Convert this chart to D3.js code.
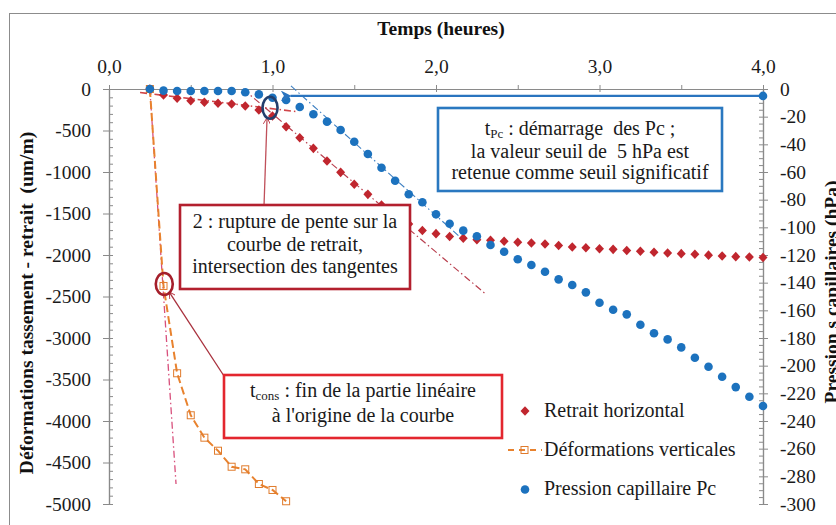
<!DOCTYPE html>
<html>
<head>
<meta charset="utf-8">
<script src="https://cdn.jsdelivr.net/npm/d3@7"></script>
<style>
  html, body { margin: 0; padding: 0; background: #ffffff; }
  svg { display: block; }
  svg text { font-family: "Liberation Serif", "Times New Roman", "DejaVu Serif", serif; }
</style>
</head>
<body>
<svg id="chart" width="836" height="525"></svg>
<script>
// Temps de mesure (minutes) — pas de 5 min
const minutes = [15, 20, 25, 30, 35, 40, 45, 50, 55, 60, 65, 70, 75, 80, 85, 90, 95, 100, 105, 110,
  115, 120, 125, 130, 135, 140, 145, 150, 155, 160, 165, 170, 175, 180, 185, 190, 195, 200, 205, 210,
  215, 220, 225, 230, 235, 240];

// Retrait horizontal (um/m), axe gauche
const retraitHorizontal = [0, -72, -112, -141, -160, -172, -181, -205, -253, -325, -454, -587, -715, -867,
  -1004, -1148, -1269, -1398, -1518, -1627, -1705, -1743, -1777, -1799, -1815, -1822, -1834, -1846, -1855,
  -1867, -1886, -1903, -1912, -1924, -1932, -1946, -1954, -1966, -1976, -1984, -1991, -2002, -2012, -2020,
  -2024, -2030];

// Pression capillaire Pc (hPa), axe droit
const pressionCapillaire = [0, -1.2, -1.4, -1.4, -1.4, -1.4, -1.4, -2.4, -3.9, -6.3, -8.0, -13.0, -18.3,
  -23.6, -29.6, -38.1, -47.0, -56.9, -66.3, -76.1, -81.9, -90.6, -97.4, -102.4, -106.4, -112.8, -117.6,
  -123.1, -127.2, -132.1, -137.6, -141.7, -147.0, -154.5, -159.6, -162.9, -170.4, -176.6, -181.0, -186.8,
  -194.3, -200.8, -208.0, -215.5, -222.5, -229.2];

// Déformations verticales (um/m), axe gauche
const minutesVert = [15, 20, 25, 30, 35, 40, 45, 50, 55, 60, 65];
const deformationsVerticales = [0, -2373, -3425, -3931, -4201, -4358, -4551, -4582, -4759, -4831, -4967];

// Tangentes (temps en heures)
const tangenteOrigineT = [0.25, 0.41];
const tangenteOrigineV = [0, -4760];
const tangenteRetraitDebutT = [0.19, 1.14];
const tangenteRetraitDebutV = [-42, -271];
const tangenteRetraitPenteT = [0.82, 2.30];
const tangenteRetraitPenteV = [0, -2464];
const tangentePcT = [1.113, 2.147];
const tangentePcV = [2.2, -107];

// Seuil de 5 hPa
const seuilT = [4.0, 1.11];
const seuilPc = [-5, -5];

// Graduations
const ticksTemps = [0, 1, 2, 3, 4];
const ticksTempsMineurs = [0.5, 1.5, 2.5, 3.5];
const ticksGauche = [0, -500, -1000, -1500, -2000, -2500, -3000, -3500, -4000, -4500, -5000];
const ticksDroite = [0, -20, -40, -60, -80, -100, -120, -140, -160, -180, -200, -220, -240, -260, -280, -300];

const SERIF = '"Liberation Serif", "Times New Roman", "DejaVu Serif", serif';
const svg = d3.select("#chart");
const AXIS = "#8a8a8a";

const x = d3.scaleLinear().domain([0, 4]).range([109, 763]);
const yL = d3.scaleLinear().domain([-5000, 0]).range([504, 89]);
const yR = d3.scaleLinear().domain([-300, 0]).range([504, 89]);

// Cadre extérieur
svg.append("rect").attr("x", 9.5).attr("y", 13.5).attr("width", 840).attr("height", 520)
  .attr("fill", "none").attr("stroke", "#8c8c8c").attr("stroke-width", 1);

function styleAxis(g) {
  g.attr("font-family", SERIF).attr("font-size", null);
  g.select(".domain").attr("stroke", AXIS).attr("stroke-width", 1.2);
  g.selectAll(".tick line").attr("stroke", AXIS).attr("stroke-width", 1);
  g.selectAll(".tick text").attr("fill", "#1a1a1a").attr("font-family", SERIF).style("font-size", "19.5px");
}

const fmtTemps = d => d3.format(".1f")(d).replace(".", ",");
const fmtEntier = d => String(d);

// Axe du temps (en haut)
const gTop = svg.append("g").attr("transform", `translate(0,${yL(0)})`);
gTop.call(d3.axisTop(x).tickValues(ticksTemps).tickSize(4).tickSizeOuter(0).tickPadding(12).tickFormat(fmtTemps));
styleAxis(gTop);
const gTopIn = svg.append("g").attr("transform", `translate(0,${yL(0)})`);
gTopIn.call(d3.axisBottom(x).tickValues(ticksTemps).tickSize(3).tickSizeOuter(0).tickFormat(""));
styleAxis(gTopIn);
const gTopMin = svg.append("g").attr("transform", `translate(0,${yL(0)})`);
gTopMin.call(d3.axisTop(x).tickValues(ticksTempsMineurs).tickSize(4).tickSizeOuter(0).tickFormat(""));
styleAxis(gTopMin);

// Axe gauche
const gL = svg.append("g").attr("transform", `translate(${x(0)},0)`);
gL.call(d3.axisLeft(yL).tickValues(ticksGauche).tickSize(6).tickSizeOuter(0).tickPadding(12).tickFormat(fmtEntier));
styleAxis(gL);
const gLmin = svg.append("g").attr("transform", `translate(${x(0)},0)`);
gLmin.call(d3.axisRight(yL).tickValues(d3.range(-5000, 1, 100)).tickSize(4).tickSizeOuter(0).tickFormat(""));
styleAxis(gLmin);

// Axe droit
const gR = svg.append("g").attr("transform", `translate(${x(4)},0)`);
gR.call(d3.axisRight(yR).tickValues(ticksDroite).tickSize(5).tickSizeOuter(0).tickPadding(12).tickFormat(fmtEntier));
styleAxis(gR);
const gRmin = svg.append("g").attr("transform", `translate(${x(4)},0)`);
gRmin.call(d3.axisLeft(yR).tickValues(d3.range(-300, 1, 5)).tickSize(4).tickSizeOuter(0).tickFormat(""));
styleAxis(gRmin);

// Titres des axes
function titre(el) {
  return el.attr("font-family", SERIF).style("font-size", "19.5px").style("font-weight", "bold").attr("fill", "#111");
}
titre(svg.append("text").attr("x", 441).attr("y", 35).attr("text-anchor", "middle"))
  .text("Temps (heures)");
titre(svg.append("text").attr("transform", "translate(33,303) rotate(-90)").attr("text-anchor", "middle"))
  .attr("xml:space", "preserve")
  .text("Déformations tassement - retrait  (um/m)");
titre(svg.append("text").attr("transform", "translate(838,292) rotate(-90)").attr("text-anchor", "middle"))
  .text("Pression s capillaires (hPa)");

// Tangentes
const segL = (ts, vs) => d3.line().x(i => x(ts[i])).y(i => yL(vs[i]))([0, 1]);
const segR = (ts, vs) => d3.line().x(i => x(ts[i])).y(i => yR(vs[i]))([0, 1]);
const DASHDOT = "7,3,1.5,3";

svg.append("path").attr("d", segL(tangenteOrigineT, tangenteOrigineV))
  .attr("fill", "none").attr("stroke", "#d8507c").attr("stroke-width", 1.3).attr("stroke-dasharray", DASHDOT);
svg.append("path").attr("d", segL(tangenteRetraitDebutT, tangenteRetraitDebutV))
  .attr("fill", "none").attr("stroke", "#d0464a").attr("stroke-width", 1.6).attr("stroke-dasharray", DASHDOT);
svg.append("path").attr("d", segL(tangenteRetraitPenteT, tangenteRetraitPenteV))
  .attr("fill", "none").attr("stroke", "#b9404f").attr("stroke-width", 1.2).attr("stroke-dasharray", DASHDOT);
svg.append("path").attr("d", segR(tangentePcT, tangentePcV))
  .attr("fill", "none").attr("stroke", "#3d7fc2").attr("stroke-width", 1.1).attr("stroke-dasharray", DASHDOT);

// Déformations verticales : ligne pointillée + carrés creux
const ORANGE = "#e8822e";
const vertIdx = d3.range(minutesVert.length);
svg.append("path")
  .attr("d", d3.line().x(i => x(minutesVert[i] / 60)).y(i => yL(deformationsVerticales[i]))(vertIdx))
  .attr("fill", "none").attr("stroke", ORANGE).attr("stroke-width", 2).attr("stroke-dasharray", "8,4");
svg.append("g").selectAll("rect").data(vertIdx).join("rect")
  .attr("x", i => x(minutesVert[i] / 60) - 3.5).attr("y", i => yL(deformationsVerticales[i]) - 3.5)
  .attr("width", 7).attr("height", 7).attr("fill", "none").attr("stroke", "#e07b2c").attr("stroke-width", 1);

// Retrait horizontal : losanges
const RED = "#c0262e";
const idx = d3.range(minutes.length);
const diamond = "M0,-4.8L4.5,0L0,4.8L-4.5,0Z";
svg.append("g").selectAll("path").data(idx).join("path")
  .attr("d", diamond)
  .attr("transform", i => `translate(${x(minutes[i] / 60)},${yL(retraitHorizontal[i])})`)
  .attr("fill", RED);

// Pression capillaire : points
const BLUE = "#1c72be";
svg.append("g").selectAll("circle").data(idx).join("circle")
  .attr("cx", i => x(minutes[i] / 60)).attr("cy", i => yR(pressionCapillaire[i]))
  .attr("r", 4.3).attr("fill", BLUE);

// Marqueurs de flèches
const defs = svg.append("defs");
defs.append("marker").attr("id", "fleche-bleue").attr("viewBox", "0 0 10 10")
  .attr("refX", 1).attr("refY", 5).attr("markerWidth", 4.5).attr("markerHeight", 4.5)
  .attr("orient", "auto-start-reverse").attr("markerUnits", "strokeWidth")
  .append("path").attr("d", "M0,5L10,0L7,5L10,10Z").attr("fill", "#2a74bf");
defs.append("marker").attr("id", "fleche-rouge").attr("viewBox", "0 0 10 10")
  .attr("refX", 9).attr("refY", 5).attr("markerWidth", 7).attr("markerHeight", 7)
  .attr("orient", "auto").attr("markerUnits", "userSpaceOnUse")
  .append("path").attr("d", "M0,0L9,5L0,10").attr("fill", "none").attr("stroke", "#b8323f").attr("stroke-width", 1.3);

// Seuil de 5 hPa
svg.append("path").attr("d", segR(seuilT, seuilPc))
  .attr("fill", "none").attr("stroke", "#2a74bf").attr("stroke-width", 2.4)
  .attr("marker-end", "url(#fleche-bleue)");
svg.append("circle").attr("cx", x(seuilT[0])).attr("cy", yR(seuilPc[0])).attr("r", 4.3).attr("fill", BLUE);

// Encadrés
function encadre(x0, y0, w, h, stroke) {
  const g = svg.append("g");
  g.append("rect").attr("x", x0).attr("y", y0).attr("width", w).attr("height", h)
    .attr("fill", "#ffffff").attr("stroke", stroke).attr("stroke-width", 2.6);
  return g;
}
// Une ligne de texte centrée ; { sub: "..." } produit un indice
function ligne(g, cx, y, parts) {
  const t = g.append("text").attr("x", cx).attr("y", y).attr("text-anchor", "middle")
    .attr("font-family", SERIF).style("font-size", "20px").attr("fill", "#1a1a1a")
    .attr("xml:space", "preserve");
  let enIndice = false;
  parts.forEach(p => {
    if (typeof p === "string") {
      t.append("tspan").attr("dy", enIndice ? -3 : null).text(p);
      enIndice = false;
    } else {
      t.append("tspan").attr("dy", 3).style("font-size", "13px").text(p.sub);
      enIndice = true;
    }
  });
  return t;
}

// Flèches des encadrés vers les points entourés
const ellBleue = { t: 0.985, v: -13.5 };
const ellRouge = { t: 0.338, v: -2350 };
svg.append("line").attr("x1", 264).attr("y1", 206).attr("x2", x(ellBleue.t) - 3).attr("y2", yR(ellBleue.v) + 10)
  .attr("stroke", "#c0505a").attr("stroke-width", 1.3).attr("marker-end", "url(#fleche-rouge)");
svg.append("line").attr("x1", 224).attr("y1", 376).attr("x2", x(ellRouge.t) + 5).attr("y2", yL(ellRouge.v) + 8)
  .attr("stroke", "#a8303c").attr("stroke-width", 1.3).attr("marker-end", "url(#fleche-rouge)");

const b1 = encadre(438, 108, 284, 83, "#2a78c0");
ligne(b1, 580, 135, ["t", { sub: "Pc" }, " : démarrage  des Pc ;"]);
ligne(b1, 580, 158, ["la valeur seuil de  5 hPa est"]);
ligne(b1, 580, 179, ["retenue comme seuil significatif"]);

const b2 = encadre(180, 205, 230, 84, "#b3202e");
ligne(b2, 295, 228, ["2 : rupture de pente sur la"]);
ligne(b2, 295, 251, ["courbe de retrait,"]);
ligne(b2, 295, 273, ["intersection des tangentes"]);

const b3 = encadre(224, 375, 278, 63, "#e3262e");
ligne(b3, 363, 397, ["t", { sub: "cons" }, " : fin de la partie linéaire"]);
ligne(b3, 363, 422, ["à l'origine de la courbe"]);

// Ellipses de repérage
svg.append("ellipse").attr("cx", x(ellBleue.t)).attr("cy", yR(ellBleue.v)).attr("rx", 7.5).attr("ry", 11)
  .attr("fill", "none").attr("stroke", "#243f6c").attr("stroke-width", 2.6);
svg.append("ellipse").attr("cx", x(ellRouge.t)).attr("cy", yL(ellRouge.v)).attr("rx", 8.5).attr("ry", 11)
  .attr("fill", "none").attr("stroke", "#a51f2b").attr("stroke-width", 2.6);

// Légende
const leg = svg.append("g");
const legTexte = (xx, yy, s) => leg.append("text").attr("x", xx).attr("y", yy)
  .attr("font-family", SERIF).style("font-size", "20px").attr("fill", "#1a1a1a").text(s);
leg.append("path").attr("d", diamond).attr("transform", "translate(525,411)").attr("fill", RED);
legTexte(544, 417, "Retrait horizontal");
leg.append("line").attr("x1", 508).attr("x2", 542).attr("y1", 450).attr("y2", 450)
  .attr("stroke", ORANGE).attr("stroke-width", 2).attr("stroke-dasharray", "6,5");
leg.append("rect").attr("x", 521).attr("y", 446.5).attr("width", 7).attr("height", 7)
  .attr("fill", "none").attr("stroke", "#e07b2c").attr("stroke-width", 1);
legTexte(544, 456, "Déformations verticales");
leg.append("circle").attr("cx", 525).attr("cy", 489.5).attr("r", 4.3).attr("fill", BLUE);
legTexte(544, 495, "Pression capillaire Pc");
</script>
</body>
</html>
